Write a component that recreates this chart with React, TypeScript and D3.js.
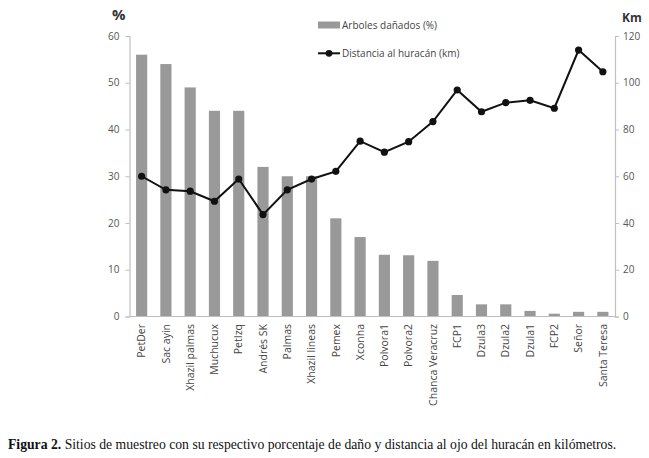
import React, { useEffect, useRef } from "react";
import * as d3 from "d3";

const sites = [
  "PetDer", "Sac ayin", "Xhazil palmas", "Muchucux", "PetIzq", "Andrés SK", "Palmas",
  "Xhazil lineas", "Pemex", "Xconha", "Polvora1", "Polvora2", "Chanca Veracruz", "FCP1",
  "Dzula3", "Dzula2", "Dzula1", "FCP2", "Señor", "Santa Teresa",
];
const damage = [56, 54, 49, 44, 44, 32, 30, 30, 21, 17, 13.2, 13.1, 11.9, 4.6, 2.6, 2.6, 1.2, 0.6, 1, 1];
const distance = [60, 54.2, 53.6, 49.3, 58.8, 43.6, 54.2, 58.8, 62.1, 75, 70.3, 74.8, 83.4, 96.9, 87.6, 91.5, 92.5, 89.1, 114, 104.7];
const pctTicks = [0, 10, 20, 30, 40, 50, 60];
const kmTicks = [0, 20, 40, 60, 80, 100, 120];

const W = 649;
const H = 458;
const sans = "'Open Sans', 'Noto Sans', sans-serif";

export default function App() {
  const ref = useRef<SVGSVGElement | null>(null);

  useEffect(() => {
    const svg = d3.select(ref.current);
    svg.selectAll("*").remove();

    const left = 129.5;
    const right = 615;
    const top = 36;
    const bottom = 316.5;

    const x = d3.scaleBand().domain(sites).range([left, right]).paddingInner(0.54).paddingOuter(0.27);
    const yPct = d3.scaleLinear().domain([0, 60]).range([bottom, top]);
    const yKm = d3.scaleLinear().domain([0, 120]).range([bottom, top]);

    svg.append("rect").attr("width", W).attr("height", H).attr("fill", "#fff");

    // bars
    svg.append("g")
      .selectAll("rect")
      .data(sites)
      .join("rect")
      .attr("x", (d) => x(d)!)
      .attr("y", (d, i) => yPct(damage[i]))
      .attr("width", x.bandwidth())
      .attr("height", (d, i) => bottom - yPct(damage[i]))
      .attr("fill", "#999999");

    // axes
    const axisColor = "#bfbfbf";
    const gl = svg.append("g").attr("transform", `translate(${left},0)`)
      .call(d3.axisLeft(yPct).tickValues(pctTicks).tickSize(4).tickPadding(6));
    const gr = svg.append("g").attr("transform", `translate(${right},0)`)
      .call(d3.axisRight(yKm).tickValues(kmTicks).tickSize(4).tickPadding(4));
    [gl, gr].forEach((g) => {
      g.select(".domain").attr("stroke", axisColor).attr("stroke-width", 1.2);
      g.selectAll(".tick line").attr("stroke", axisColor);
      g.selectAll(".tick text").attr("fill", "#555").attr("font-size", 10).attr("font-family", sans);
    });

    svg.append("line")
      .attr("x1", left).attr("x2", right).attr("y1", bottom).attr("y2", bottom)
      .attr("stroke", axisColor).attr("stroke-width", 1.2);

    // category labels
    svg.append("g")
      .selectAll("text")
      .data(sites)
      .join("text")
      .attr("transform", (d) => `translate(${x(d)! + x.bandwidth() / 2 + 3.7},324) rotate(-90)`)
      .attr("text-anchor", "end")
      .attr("font-size", 10.5)
      .attr("font-family", sans)
      .attr("fill", "#444")
      .text((d) => d);

    // distance line
    const line = d3.line<number>()
      .x((d, i) => x(sites[i])! + x.bandwidth() / 2)
      .y((d) => yKm(d));
    svg.append("path")
      .datum(distance)
      .attr("d", line)
      .attr("fill", "none")
      .attr("stroke", "#111")
      .attr("stroke-width", 2);
    svg.append("g")
      .selectAll("circle")
      .data(distance)
      .join("circle")
      .attr("cx", (d, i) => x(sites[i])! + x.bandwidth() / 2)
      .attr("cy", (d) => yKm(d))
      .attr("r", 3.6)
      .attr("fill", "#111");

    // axis titles
    svg.append("text").attr("x", 112).attr("y", 20).attr("font-size", 15).attr("font-weight", "bold")
      .attr("font-family", sans).attr("fill", "#333").text("%");
    svg.append("text").attr("x", 622).attr("y", 22).attr("font-size", 12).attr("font-weight", "bold")
      .attr("font-family", sans).attr("fill", "#333").text("Km");

    // legend
    const lg = svg.append("g");
    lg.append("rect").attr("x", 318).attr("y", 21.5).attr("width", 22).attr("height", 7).attr("fill", "#999999");
    lg.append("text").attr("x", 342).attr("y", 29).attr("font-size", 10).attr("font-family", sans)
      .attr("fill", "#444").text("Arboles dañados (%)");
    lg.append("line").attr("x1", 318).attr("x2", 340).attr("y1", 53.3).attr("y2", 53.3)
      .attr("stroke", "#111").attr("stroke-width", 2);
    lg.append("circle").attr("cx", 329).attr("cy", 53.3).attr("r", 3.4).attr("fill", "#111");
    lg.append("text").attr("x", 342).attr("y", 57).attr("font-size", 10).attr("font-family", sans)
      .attr("fill", "#444").text("Distancia al huracán (km)");

    // caption
    const cap = svg.append("text").attr("x", 8).attr("y", 449)
      .attr("font-family", "'Liberation Serif', 'Times New Roman', serif").attr("font-size", 13.7).attr("fill", "#111");
    cap.append("tspan").attr("font-weight", "bold").text("Figura 2.");
    cap.append("tspan").text(" Sitios de muestreo con su respectivo porcentaje de daño y distancia al ojo del huracán en kilómetros.");
  }, []);

  return (
    <svg ref={ref} width={W} height={H} style={{ position: "absolute", left: 0, top: 0 }} />
  );
}
